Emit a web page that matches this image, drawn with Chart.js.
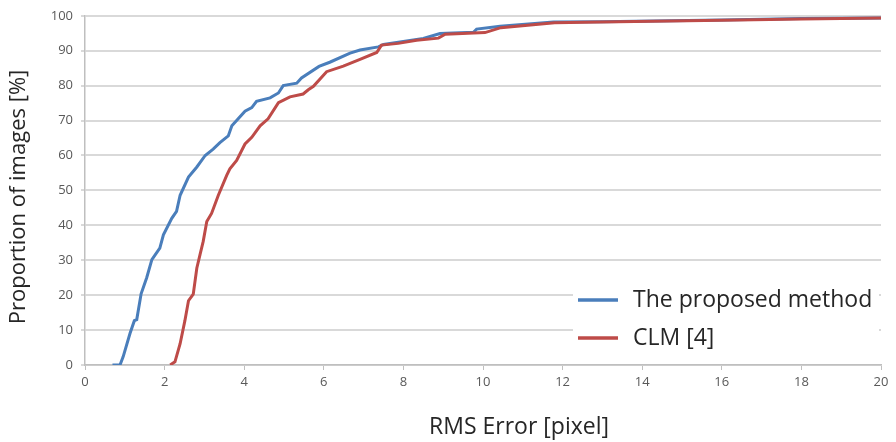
<!DOCTYPE html>
<html>
<head>
<meta charset="utf-8">
<script src="https://cdn.jsdelivr.net/npm/chart.js@4.4.1/dist/chart.umd.min.js"></script>
<style>
  html, body { margin: 0; padding: 0; background: #fff; }
  #wrap { width: 896px; height: 442px; }
</style>
</head>
<body>
<div id="wrap"><canvas id="rmsChart" width="896" height="442"></canvas></div>
<script>
// CDF of RMS error
const proposedX = [0.69, 0.88, 0.96, 1.13, 1.24, 1.30, 1.41, 1.55, 1.68, 1.88, 1.97, 2.18, 2.30, 2.39, 2.60, 2.81, 3.02, 3.22, 3.39, 3.60, 3.69, 4.02, 4.19, 4.31, 4.65, 4.86, 4.98, 5.32, 5.44, 5.88, 6.15, 6.66, 6.91, 7.37, 7.50, 8.50, 8.92, 9.76, 9.84, 10.43, 11.77, 13, 16, 18, 20];
const proposedY = [0, 0, 2.4, 9, 12.7, 13, 20.4, 25, 30.2, 33.5, 37.3, 42, 44, 48.6, 53.8, 56.7, 60, 61.8, 63.7, 65.6, 68.5, 72.7, 73.7, 75.5, 76.5, 77.9, 80, 80.7, 82.2, 85.5, 86.7, 89.3, 90.2, 91.1, 91.8, 93.5, 94.9, 95.3, 96.2, 97, 98.2, 98.3, 98.8, 99.2, 99.4];

const clmX = [2.14, 2.26, 2.39, 2.51, 2.60, 2.72, 2.81, 2.89, 2.97, 3.06, 3.18, 3.35, 3.56, 3.64, 3.81, 4.02, 4.19, 4.40, 4.60, 4.86, 5.15, 5.48, 5.61, 5.74, 6.07, 6.49, 6.91, 7.33, 7.45, 7.87, 8.33, 8.88, 9.05, 10.05, 10.45, 11.8, 12.94, 16, 18, 20];
const clmY = [0, 0.9, 6.1, 12.7, 18.4, 20.3, 27.8, 31.6, 35.4, 41.1, 43.4, 48.6, 54.3, 56.2, 58.6, 63.3, 65.2, 68.5, 70.5, 75.1, 76.8, 77.6, 78.8, 79.8, 84, 85.6, 87.5, 89.5, 91.6, 92.1, 93, 93.6, 94.7, 95.2, 96.6, 98, 98.2, 98.7, 99.1, 99.4];

const seriesLabels = ['The proposed method', 'CLM [4]'];
const xTitle = 'RMS Error [pixel]';
const yTitle = 'Proportion of images [%]';

function toPoints(xs, ys) {
    return xs.map((x, i) => ({ x: x, y: ys[i] }));
}

// Legend inside the plot (bottom right) and the two axis titles, placed like the original
const extras = {
    id: 'extras',
    afterDatasetsDraw(chart) {
        const ctx = chart.ctx;
        const area = chart.chartArea;
        ctx.save();
        ctx.fillStyle = '#ffffff';
        ctx.fillRect(573, 283, area.right - 573 - 2, 72);
        ctx.font = '23px "Open Sans", sans-serif';
        ctx.textBaseline = 'middle';
        chart.data.datasets.forEach((ds, i) => {
            const y = 300 + i * 38;
            ctx.strokeStyle = ds.borderColor;
            ctx.lineWidth = 3.5;
            ctx.beginPath();
            ctx.moveTo(578, y);
            ctx.lineTo(618, y);
            ctx.stroke();
            ctx.fillStyle = '#262626';
            ctx.fillText(ds.label, 633, y);
        });

        ctx.fillStyle = '#262626';
        ctx.textAlign = 'center';
        ctx.font = '23px "Open Sans", sans-serif';
        ctx.fillText(xTitle, 519, 427);

        ctx.translate(19, 197);
        ctx.rotate(-Math.PI / 2);
        ctx.font = '22px "Open Sans", sans-serif';
        ctx.fillText(yTitle, 0, 0);
        ctx.restore();
    }
};

const ctx = document.getElementById('rmsChart').getContext('2d');
const rmsChart = new Chart(ctx, {
    type: 'line',
    data: {
        datasets: [
            { label: seriesLabels[0], data: toPoints(proposedX, proposedY), borderColor: '#4a7ebb', borderWidth: 3, pointRadius: 0, tension: 0, fill: false, order: 1 },
            { label: seriesLabels[1], data: toPoints(clmX, clmY), borderColor: '#be4b48', borderWidth: 3, pointRadius: 0, tension: 0, fill: false, order: 0 },
        ],
    },
    options: {
        responsive: false,
        animation: false,
        layout: { padding: { left: 0, right: 15, top: 12, bottom: 0 } },
        plugins: { legend: { display: false }, tooltip: { enabled: false } },
        scales: {
            x: {
                type: 'linear',
                min: 0, max: 20,
                ticks: { stepSize: 2, color: '#595959', font: { family: '"Open Sans", sans-serif', size: 13 }, padding: 4 },
                grid: { drawOnChartArea: false, drawTicks: true, tickLength: 5, color: '#bfbfbf' },
                border: { color: '#bfbfbf', width: 1.5 },
                afterFit(axis) { axis.height = 77; }
            },
            y: {
                min: 0, max: 100,
                ticks: { stepSize: 10, color: '#595959', font: { family: '"Open Sans", sans-serif', size: 13 }, padding: 8 },
                grid: { color: '#d9d9d9', lineWidth: 2, tickLength: 4 },
                border: { color: '#bfbfbf', width: 1.5 },
                afterFit(axis) { axis.width = 85; }
            }
        }
    },
    plugins: [extras]
});
</script>
</body>
</html>
